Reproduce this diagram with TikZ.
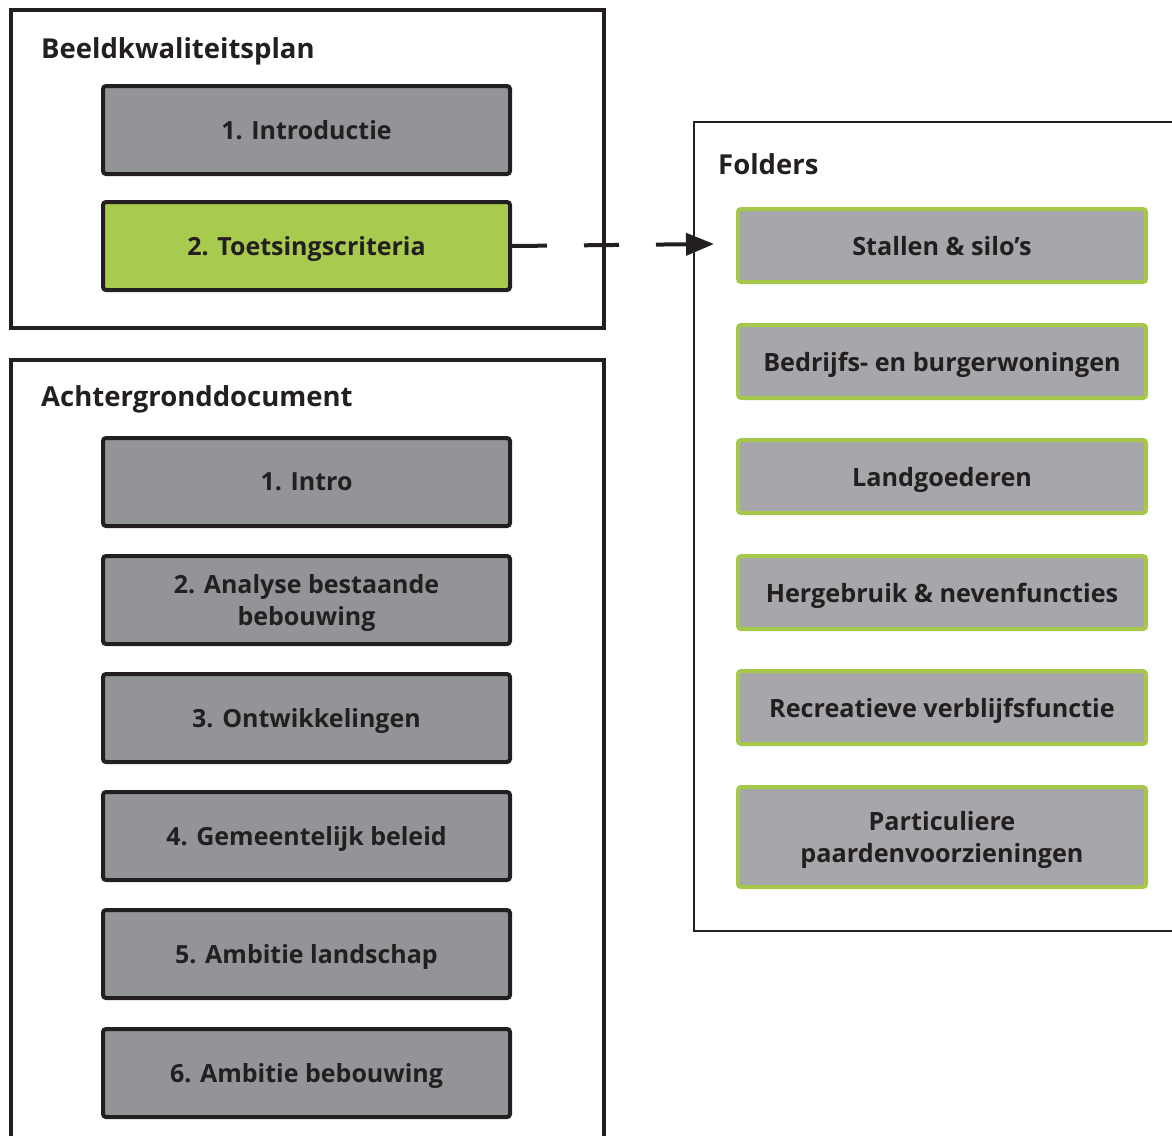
\documentclass[tikz,border=0pt]{standalone}
\usepackage{fontspec}
\setmainfont{Open Sans}
\usetikzlibrary{arrows.meta}
\definecolor{txt}{HTML}{231F20}
\definecolor{boxgray}{HTML}{929497}
\definecolor{foldgray}{HTML}{A7A6AA}
\definecolor{lgreen}{HTML}{A8CA4E}
\definecolor{fgreen}{HTML}{A5C84A}
\tikzset{
  frame/.style={draw=txt, line width=4pt},
  thinframe/.style={draw=txt, line width=2.5pt},
  title/.style={anchor=base west, inner sep=0pt, text=txt, font=\fontsize{27.5}{32}\selectfont\bfseries},
  docbox/.style={draw=txt, line width=4pt, fill=boxgray, rounded corners=3pt,
     minimum width=407pt, minimum height=88pt, inner sep=0pt, align=center,
     text depth=0pt, text=txt, font=\fontsize{25}{32}\selectfont\bfseries},
  keybox/.style={docbox, fill=lgreen},
  foldbox/.style={draw=fgreen, line width=4pt, fill=foldgray, rounded corners=3pt,
     minimum width=408pt, minimum height=73pt, inner sep=0pt, align=center,
     text depth=0pt, text=txt, font=\fontsize{25.2}{32}\selectfont\bfseries},
  link/.style={draw=txt, line width=4pt, dash pattern=on 35pt off 37pt,
     -{Triangle[length=28pt,width=22pt]}}
}
\begin{document}
\begin{tikzpicture}[x=1pt,y=-1pt]
\useasboundingbox (0,0) rectangle (1172,1135);
\clip (0,0) rectangle (1172,1135);
% containers
\draw[frame] (11,10) rectangle (604,328);
\draw[frame] (11,1150) -- (11,360) -- (604,360) -- (604,1150);
\draw[thinframe] (1185,122) -- (694,122) -- (694,931) -- (1185,931);
% titles
\node[title] (t1) at (41,58) {Beeldkwaliteitsplan};
\node[title] (t2) at (41,406) {Achtergronddocument};
\node[title] (t3) at (718,174) {Folders};
% left boxes
\node[docbox] (b1) at (306.5,130) {1. Introductie};
\node[keybox] (b2) at (306.5,246) {2. Toetsingscriteria};
\node[docbox] (a1) at (306.5,482) {1. Intro};
\node[docbox] (a2) at (306.5,600) {2. Analyse bestaande\\bebouwing};
\node[docbox] (a3) at (306.5,718) {3. Ontwikkelingen};
\node[docbox] (a4) at (306.5,836) {4. Gemeentelijk beleid};
\node[docbox] (a5) at (306.5,954) {5. Ambitie landschap};
\node[docbox] (a6) at (306.5,1073) {6. Ambitie bebouwing};
% folders
\node[foldbox] (f1) at (942,245.5) {Stallen \& silo’s};
\node[foldbox] (f2) at (942,361.5) {Bedrijfs- en burgerwoningen};
\node[foldbox] (f3) at (942,476.5) {Landgoederen};
\node[foldbox] (f4) at (942,592.5) {Hergebruik \& nevenfuncties};
\node[foldbox] (f5) at (942,707.5) {Recreatieve verblijfsfunctie};
\node[foldbox, minimum height=100pt] (f6) at (942,837) {Particuliere\\paardenvoorzieningen};
% connector
\coordinate (tip) at (714,244);
\draw[link] (b2.east) -- (tip);
\end{tikzpicture}
\end{document}
